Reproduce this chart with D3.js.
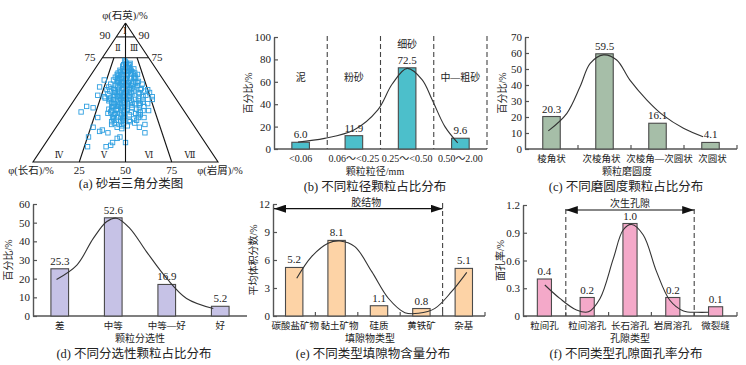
<!DOCTYPE html>
<html>
<head>
<meta charset="utf-8">
<script src="https://cdn.jsdelivr.net/npm/d3@7"></script>
<style>
body { margin: 0; background: #fff; }
svg { display: block; font-family: "Liberation Serif", "Noto Sans CJK SC", serif; }
</style>
</head>
<body>
<svg id="fig" width="746" height="365"></svg>
<script>
// ---- (a) sandstone QFR points: [quartz, feldspar, rock fragments] ----
const qfrPoints = [
  [72,14,14],[70,15,15],[69,17,14],[71,12,17],[68,16,16],[70,13,17],[69,14,17],[67,18,15],
  [66,18,16],[65,20,15],[64,17,19],[66,15,19],[63,21,16],[65,16,19],[64,22,14],[63,18,19],[67,14,19],[65,18,17],[62,23,15],[64,15,21],
  [61,22,17],[60,20,20],[59,24,17],[62,18,20],[58,25,17],[60,17,23],[61,14,25],[59,20,21],[58,22,20],[60,24,16],[62,20,18],[59,27,14],[61,25,14],[58,19,23],[60,22,18],[57,24,19],
  [56,24,20],[55,22,23],[54,27,19],[57,20,23],[53,25,22],[55,28,17],[56,18,26],[54,21,25],[57,26,17],[53,30,17],[55,25,20],[54,24,22],[56,30,14],[53,20,27],[55,19,26],[57,23,20],[54,32,14],[56,21,23],
  [52,26,22],[51,24,25],[50,28,22],[49,30,21],[48,27,25],[52,30,18],[51,20,29],[50,25,25],[49,22,29],[48,32,20],[52,22,26],[51,33,16],[50,31,19],[49,26,25],[48,24,28],[50,18,32],[51,28,21],[49,35,16],[52,34,14],[48,29,23],[50,22,28],[51,30,19],
  [47,28,25],[46,30,24],[45,27,28],[44,32,24],[43,29,28],[47,33,20],[46,25,29],[45,34,21],[44,26,30],[43,36,21],[47,24,29],[46,35,19],[45,30,25],[44,37,19],[43,25,32],[47,31,22],[46,28,26],[45,22,33],[44,29,27],[43,33,24],[46,38,16],[45,36,19],
  [42,32,26],[41,30,29],[40,34,26],[39,31,30],[38,35,27],[42,28,30],[41,36,23],[40,29,31],[39,38,23],[38,30,32],[42,35,23],[41,26,33],[40,37,23],[39,33,28],[38,40,22],[42,24,34],[40,32,28],[41,33,26],[39,27,34],[38,36,26],
  [37,36,27],[36,33,31],[35,38,27],[34,35,31],[33,40,27],[37,32,31],[36,40,24],[35,33,32],[34,39,27],[33,36,31],[37,39,24],[36,29,35],[35,42,23],[34,31,35],[33,34,33],
  [32,38,30],[31,36,33],[30,40,30],[29,38,33],[28,42,30],[32,35,33],[31,41,28],[30,36,34],[29,43,28],[28,37,35],[32,41,27],[30,33,37],
  [27,40,33],[26,39,35],[25,42,33],[24,40,36],[27,44,29],[26,36,38],
  [66,14,20],[64,13,23],[62,14,24],[60,15,25],[63,12,25],[67,12,21],
  [57,15,28],[55,16,29],[53,15,32],[56,13,31],[54,18,28],[52,16,32],[51,14,35],[58,14,28],
  [49,18,33],[47,17,36],[46,20,34],[45,18,37],[44,21,35],[48,15,37],[43,19,38],[42,21,37],
  [41,22,37],[40,20,40],[39,23,38],[38,25,37],[36,24,40],[35,27,38],[34,25,41],[37,22,41],
  [32,27,41],[30,29,41],[28,31,41],[31,30,39],[29,33,38],
  [36,56,8],[40,51,9],[18,61,21],[11,65,24],[25,55,20],[32,49,19],[22,53,25],[23,51,26],[21,49,30],[11,55,34],
  [12,52,36],[14,50,36],[17,46,37],[18,44,38],[14,43,43],[48,41,11],[54,37,9],[59,32,9],[47,38,15],[39,48,13],
  [32,24,44],[27,26,47],[21,29,50],[37,19,44],[50,12,38],[45,13,42],[47,12,41],[52,12,36],[42,17,41],[25,30,45],[34,26,40],
  [73,14,13],[71,14,15],[70,16,14],[66,20,14],[68,15,17],[65,14,21],[63,23,14],[61,15,24],[57,16,27],[59,25,16]
];
const ternBase = ["25", "50", "75"];
const ternRoman = ["Ⅰ", "Ⅱ", "Ⅲ", "Ⅳ", "Ⅴ", "Ⅵ", "Ⅶ"];

// ---- (b) grain size ----
const sizeCats = ["<0.06", "0.06～<0.25", "0.25～<0.50", "0.50～2.00"];
const sizeVals = [6.0, 11.9, 72.5, 9.6];
const sizeZones = ["泥", "粉砂", "细砂", "中—粗砂"];
const sizeZoneAt = [64, 64, 93, 64];
const sizeCurve = [[-0.05,6.3],[0.45,9.5],[1.0,17],[1.45,35],[1.72,58],[2.0,72],[2.28,62],[2.47,44],[2.71,20],[2.95,5.5]];

// ---- (c) roundness ----
const roundCats = ["棱角状", "次棱角状", "次棱角—次圆状", "次圆状"];
const roundVals = [20.3, 59.5, 16.1, 4.1];
const roundCurve = [[-0.06,11.3],[0.29,22.3],[0.54,39],[0.73,53.5],[0.98,58.8],[1.23,55.6],[1.48,43],[1.8,30.6],[2.11,21],[2.49,13],[2.86,7.7]];

// ---- (d) sorting ----
const sortCats = ["差", "中等", "中等—好", "好"];
const sortVals = [25.3, 52.6, 16.9, 5.2];
const sortCurve = [[-0.06,19.6],[0.32,27.3],[0.63,41.7],[0.88,50.6],[1.06,52.4],[1.31,47],[1.62,34.5],[2.0,20.1],[2.37,9.4],[2.87,4]];

// ---- (e) interstitial material ----
const fillCats = ["碳酸盐矿物", "黏土矿物", "硅质", "黄铁矿", "杂基"];
const fillVals = [5.2, 8.1, 1.1, 0.8, 5.1];
const fillCurve = [[0.06,4.04],[0.41,6.36],[0.8,7.8],[1.08,8.04],[1.43,7.43],[1.83,4.75],[2.22,1.9],[2.61,0.36],[2.93,0.29],[3.32,0.82],[3.71,2.6],[4.07,4.68]];

// ---- (f) pore types ----
const poreCats = ["粒间孔", "粒间溶孔", "长石溶孔", "岩屑溶孔", "微裂缝"];
const poreVals = [0.4, 0.2, 1.0, 0.2, 0.1];
const poreCurve = [[0.01,0.335],[0.36,0.19],[0.75,0.065],[1.03,0.046],[1.3,0.19],[1.61,0.62],[1.84,0.93],[2.04,0.99],[2.31,0.876],[2.62,0.48],[2.93,0.17],[3.25,0.054],[3.56,0.04],[3.83,0.04]];

const svg = d3.select("#fig");
const INK = "#222";
const AXIS = "#555";

// arrow head marker for the bracket arrows
const defs = svg.append("defs");
defs.append("marker")
    .attr("id", "arrow")
    .attr("viewBox", "0 0 12 8")
    .attr("refX", 12)
    .attr("refY", 4)
    .attr("markerWidth", 12)
    .attr("markerHeight", 8)
    .attr("markerUnits", "userSpaceOnUse")
    .attr("orient", "auto-start-reverse")
    .append("path")
    .attr("d", "M0,0L12,4L0,8Z")
    .attr("fill", "#111");

function label(g, x, y, txt, size, anchor) {
    return g.append("text")
        .attr("x", x)
        .attr("y", y)
        .attr("dy", "0.35em")
        .attr("text-anchor", anchor || "middle")
        .attr("font-size", size)
        .attr("fill", INK)
        .text(txt);
}

// ---------------- (a) ternary diagram ----------------
{
    const g = svg.append("g");
    const apex = [125.5, 23], left = [33, 162], right = [218, 162];
    const tern = d => {
        const s = d[0] + d[1] + d[2];
        return [
            (d[0] * apex[0] + d[1] * left[0] + d[2] * right[0]) / s,
            (d[0] * apex[1] + d[1] * left[1] + d[2] * right[1]) / s
        ];
    };
    const line = d3.line().x(d => tern(d)[0]).y(d => tern(d)[1]);

    const segs = [
        [[100,0,0],[0,100,0],[0,0,100],[100,0,0]],
        [[90,10,0],[90,0,10]],
        [[75,25,0],[75,0,25]],
        [[75,18.75,6.25],[0,75,25]],
        [[75,6.25,18.75],[0,25,75]]
    ];
    g.selectAll("path.seg")
        .data(segs)
        .join("path")
        .attr("class", "seg")
        .attr("d", line)
        .attr("fill", "none")
        .attr("stroke", "#111")
        .attr("stroke-width", 1.1);

    const sq = 4.4;
    g.selectAll("rect.pt")
        .data(qfrPoints)
        .join("rect")
        .attr("class", "pt")
        .attr("x", d => tern(d)[0] - sq / 2)
        .attr("y", d => tern(d)[1] - sq / 2)
        .attr("width", sq)
        .attr("height", sq)
        .attr("fill", "none")
        .attr("stroke", "#2e9fe0")
        .attr("stroke-width", 0.9);

    // centre line drawn above the points
    g.append("path")
        .attr("d", line([[100,0,0],[0,50,50]]))
        .attr("stroke", "#111")
        .attr("stroke-width", 1.1);

    label(g, 125, 15, "φ(石英)/%", 10.5);
    label(g, 105, 35, "90", 11);
    label(g, 144, 35, "90", 11);
    label(g, 90, 57, "75", 11);
    label(g, 157, 57, "75", 11);
    label(g, 31, 170, "φ(长石)/%", 10.5);
    label(g, 220, 170, "φ(岩屑)/%", 10.5);
    ternBase.forEach((t, i) => label(g, tern([0, 75 - 25 * i, 25 + 25 * i])[0], 170, t, 11));

    const romanPos = [[125, 31], [118, 48], [134, 48], [59, 155], [104, 155], [149, 155], [190, 155]];
    ternRoman.forEach((t, i) => label(g, romanPos[i][0], romanPos[i][1], t, 8.5)
        .attr("font-family", "DejaVu Serif"));

    label(g, 131, 184, "(a) 砂岩三角分类图", 12.5);
}

// ---------------- bar panels (b)–(f) ----------------
function barPanel(p) {
    const g = svg.append("g");
    const x = d3.scaleBand().domain(p.cats).range([p.left, p.right]).padding(0);
    const y = d3.scaleLinear().domain([0, p.yMax]).range([p.bottom, p.top]);
    const step = x.bandwidth();
    const xc = i => x(p.cats[0]) + step / 2 + i * step;
    const bw = step * p.barFrac;

    // y axis, ticks pointing inward
    const ticks = d3.range(0, p.yMax + p.yStep / 2, p.yStep);
    g.append("g")
        .attr("transform", `translate(${p.left},0)`)
        .call(d3.axisLeft(y).tickValues(ticks).tickSize(-4).tickSizeOuter(0).tickPadding(3).tickFormat(p.fmt))
        .attr("font-family", null)
        .attr("font-size", null)
        .call(a => a.select(".domain").attr("stroke", AXIS).attr("stroke-width", 1.4))
        .call(a => a.selectAll(".tick line").attr("stroke", AXIS).attr("stroke-width", 1.2))
        .call(a => a.selectAll(".tick text").attr("font-size", 11).attr("fill", INK));

    // x axis line, boundary ticks and labels
    g.append("line")
        .attr("x1", p.left).attr("x2", p.right)
        .attr("y1", p.bottom).attr("y2", p.bottom)
        .attr("stroke", AXIS).attr("stroke-width", 1.4);
    if (p.boundaryTicks) {
        g.selectAll("line.bt")
            .data(p.cats.slice(1).map(c => x(c)).concat([p.right]))
            .join("line")
            .attr("class", "bt")
            .attr("x1", d => d).attr("x2", d => d)
            .attr("y1", p.bottom).attr("y2", p.bottom - 4)
            .attr("stroke", AXIS).attr("stroke-width", 1.2);
    }
    p.cats.forEach((c, i) => label(g, xc(i) + (p.xShift ? p.xShift[i] : 0), p.bottom + 9.5, c, p.xFont || 9.5));

    // bars
    g.selectAll("rect.bar")
        .data(p.vals)
        .join("rect")
        .attr("class", "bar")
        .attr("x", (d, i) => xc(i) - bw / 2)
        .attr("y", d => y(d))
        .attr("width", bw)
        .attr("height", d => p.bottom - y(d))
        .attr("fill", p.fill)
        .attr("stroke", "#4a4a4a")
        .attr("stroke-width", 1.1);

    g.selectAll("text.val")
        .data(p.vals)
        .join("text")
        .attr("class", "val")
        .attr("x", (d, i) => xc(i))
        .attr("y", d => y(d) - 4)
        .attr("text-anchor", "middle")
        .attr("font-size", 11)
        .attr("fill", INK)
        .text(d => d.toFixed(1));

    // fitted curve
    g.append("path")
        .datum(p.curve)
        .attr("d", d3.line().x(d => xc(d[0])).y(d => y(d[1])).curve(d3.curveCatmullRom))
        .attr("fill", "none")
        .attr("stroke", "#333")
        .attr("stroke-width", 1.1);

    // titles
    label(g, p.left - p.yTitleOff, (p.top + p.bottom) / 2, p.yTitle, 10)
        .attr("transform", `rotate(-90,${p.left - p.yTitleOff},${(p.top + p.bottom) / 2})`);
    label(g, p.xTitleX, p.bottom + 22, p.xTitle, 10);
    label(g, p.captionX, p.bottom + 38, p.caption, 12.5);

    return { g, x, y, xc };
}

function dashed(g, x, y1, y2) {
    g.append("line")
        .attr("x1", x).attr("x2", x)
        .attr("y1", y1).attr("y2", y2)
        .attr("stroke", "#444")
        .attr("stroke-width", 1.1)
        .attr("stroke-dasharray", "5,3");
}

function bracket(g, x1, x2, yy, txt, dx) {
    g.append("line")
        .attr("x1", x1).attr("x2", x2)
        .attr("y1", yy).attr("y2", yy)
        .attr("stroke", "#111")
        .attr("stroke-width", 1.1)
        .attr("marker-start", "url(#arrow)")
        .attr("marker-end", "url(#arrow)");
    label(g, (x1 + x2) / 2 + dx, yy - 6, txt, 10);
}

// (b)
{
    const b = barPanel({
        cats: sizeCats, vals: sizeVals, curve: sizeCurve,
        left: 274, right: 487, top: 37, bottom: 149,
        yMax: 100, yStep: 20, fmt: d3.format("d"),
        fill: "#4cbfcb", barFrac: 0.33, boundaryTicks: false, xFont: 10,
        yTitle: "百分比/%", yTitleOff: 26,
        xTitle: "颗粒粒径/mm", xTitleX: 375,
        caption: "(b) 不同粒径颗粒占比分布", captionX: 375
    });
    sizeCats.slice(1).map(c => b.x(c)).concat([487]).forEach(xx => dashed(b.g, xx, 36, 149));
    sizeZones.forEach((z, i) => label(b.g, b.xc(i), b.y(sizeZoneAt[i]), z, 10));
}

// (c)
barPanel({
    cats: roundCats, vals: roundVals, curve: roundCurve,
    left: 525, right: 737, top: 37, bottom: 149,
    yMax: 70, yStep: 10, fmt: d3.format("d"),
    fill: "#a6bea8", barFrac: 0.33, boundaryTicks: true, xShift: [0, -3, 2, 2],
    yTitle: "百分比/%", yTitleOff: 23,
    xTitle: "颗粒磨圆度", xTitleX: 627,
    caption: "(c) 不同磨圆度颗粒占比分布", captionX: 626
});

// (d)
barPanel({
    cats: sortCats, vals: sortVals, curve: sortCurve,
    left: 33, right: 247, top: 204, bottom: 316,
    yMax: 60, yStep: 10, fmt: d3.format("d"),
    fill: "#c6c2e6", barFrac: 0.33, boundaryTicks: false,
    yTitle: "百分比/%", yTitleOff: 25,
    xTitle: "颗粒分选性", xTitleX: 140,
    caption: "(d) 不同分选性颗粒占比分布", captionX: 134
});

// (e)
{
    const e = barPanel({
        cats: fillCats, vals: fillVals, curve: fillCurve,
        left: 273, right: 485, top: 204, bottom: 316,
        yMax: 12, yStep: 3, fmt: d3.format("d"),
        fill: "#fdd3a6", barFrac: 0.41, boundaryTicks: true, xShift: [1, 3, 0, 0, 0],
        yTitle: "平均体积分数/%", yTitleOff: 20,
        xTitle: "填隙物类型", xTitleX: 370,
        caption: "(e) 不同类型填隙物含量分布", captionX: 373
    });
    const xb = e.x(fillCats[4]);
    dashed(e.g, xb, 203, 316);
    bracket(e.g, 274, xb, e.y(11.5), "胶结物", 8);
}

// (f)
{
    const f = barPanel({
        cats: poreCats, vals: poreVals, curve: poreCurve,
        left: 523, right: 737, top: 205, bottom: 316,
        yMax: 1.2, yStep: 0.3, fmt: d => d === 0 ? "0" : d3.format(".1f")(d),
        fill: "#f4a9c9", barFrac: 0.33, boundaryTicks: true,
        yTitle: "面孔率/%", yTitleOff: 23,
        xTitle: "孔隙类型", xTitleX: 630,
        caption: "(f) 不同类型孔隙面孔率分布", captionX: 626
    });
    const xa = f.x(poreCats[1]), xb = f.x(poreCats[4]);
    dashed(f.g, xa, 209, 316);
    dashed(f.g, xb, 209, 316);
    bracket(f.g, xa, xb, f.y(1.146), "次生孔隙", 0);
}
</script>
</body>
</html>
